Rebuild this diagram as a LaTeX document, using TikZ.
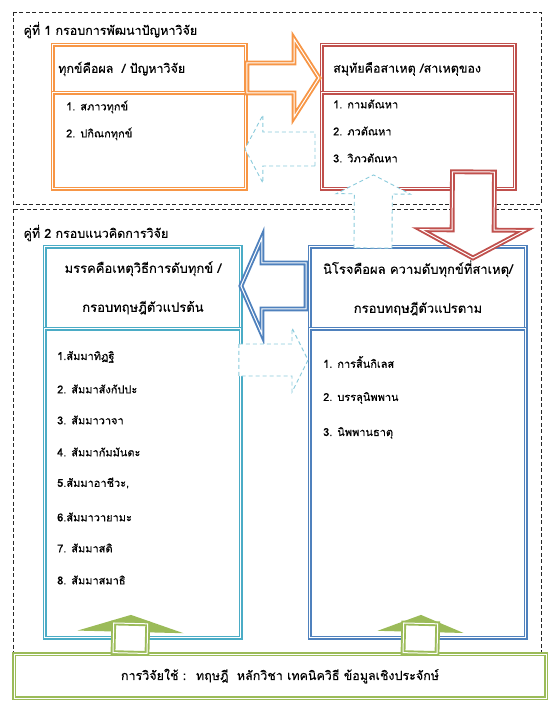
\documentclass[tikz,border=0pt]{standalone}
\usepackage{fontspec}
\setmainfont[Script=Thai, FakeBold=0.25]{Loma}
\usetikzlibrary{calc}

\definecolor{fworange}{HTML}{F79646}
\definecolor{fwred}{HTML}{C0504D}
\definecolor{fwcyan}{HTML}{4BACC6}
\definecolor{fwblue}{HTML}{4F81BD}
\definecolor{fwgreen}{HTML}{9BBB59}
\definecolor{fwdash}{HTML}{8ACBDC}

% block arrow: #1 style, #2 start, #3 tip, #4 half shaft, #5 half head, #6 head length
\newcommand{\blockarrow}[6]{%
  \path #2 coordinate (ba-start) #3 coordinate (ba-tip);
  \coordinate (ba-base) at ($(ba-tip)!#6!(ba-start)$);
  \draw[#1] ($(ba-start)!#4!90:(ba-tip)$) -- ($(ba-base)!#4!90:(ba-tip)$)
     -- ($(ba-base)!#5!90:(ba-tip)$) -- (ba-tip)
     -- ($(ba-base)!#5!-90:(ba-tip)$) -- ($(ba-base)!#4!-90:(ba-tip)$)
     -- ($(ba-start)!#4!-90:(ba-tip)$) -- cycle;
}
% flat arrow with a filled head: #1 start, #2 tip, #3 half shaft, #4 half head, #5 head length
\newcommand{\fatarrow}[5]{%
  \path #1 coordinate (fa-start) #2 coordinate (fa-tip);
  \coordinate (fa-base) at ($(fa-tip)!#5!(fa-start)$);
  \coordinate (fa-top) at ($(fa-tip)!0.5!(fa-base)$);
  \fill[fwgreen] ($(fa-base)!#4!90:(fa-tip)$) -- (fa-tip)
     -- ($(fa-base)!#4!-90:(fa-tip)$) -- cycle;
  \draw[solidarrow, draw=fwgreen] ($(fa-start)!#3!90:(fa-tip)$) -- ($(fa-top)!#3!90:(fa-tip)$)
     -- ($(fa-top)!#3!-90:(fa-tip)$) -- ($(fa-start)!#3!-90:(fa-tip)$) -- cycle;
}

\begin{document}
\begin{tikzpicture}[x=1pt, y=-1pt,
        every node/.style={font=\fontsize{11}{13}\selectfont},
        panel/.style={
        % The shape:
        rectangle, inner sep=0pt, anchor=north west,
        % The border:
        line width=1.9pt, double=white, double distance=1pt,
        % The filling:
        fill=white
        },
        opanel/.style={panel, draw=fworange},
        rpanel/.style={panel, draw=fwred},
        cpanel/.style={panel, draw=fwcyan, align=center,
                       font=\fontsize{13}{39}\selectfont},
        bpanel/.style={panel, draw=fwblue, align=center,
                       font=\fontsize{13}{39}\selectfont},
        gpanel/.style={panel, draw=fwgreen, anchor=center,
                       font=\fontsize{12.5}{15}\selectfont},
        frame/.style={draw=black!85, line width=0.8pt,
                      dash pattern=on 4pt off 2.5pt},
        title/.style={anchor=west, font=\fontsize{12.5}{15}\selectfont},
        headtext/.style={anchor=west, inner sep=0pt, font=\fontsize{12.5}{15}\selectfont},
        item/.style={anchor=west, inner sep=0pt},
        solidarrow/.style={line width=1.9pt, double=white,
                           double distance=1pt, fill=white, line join=miter},
        dasharrow/.style={draw=fwdash, line width=0.9pt,
                          dash pattern=on 4pt off 3pt, fill=white},
        ]
  \useasboundingbox (0,0) rectangle (549,701);

  % the two dashed frames
  \draw[frame] (13,12) rectangle (541,204);
  \draw[frame] (13,209) rectangle (541,655);
  \node[title] (title1) at (20,30) {คู่ที่ 1 กรอบการพัฒนาปัญหาวิจัย};
  \node[title] (title2) at (20,233) {คู่ที่ 2 กรอบแนวคิดการวิจัย};

  % frame 1
  \node[opanel, minimum width=193pt, minimum height=48pt] (ohead) at (52,44) {};
  \node[opanel, minimum width=193pt, minimum height=96pt] (obody) at (52,92) {};
  \node[headtext] (otext) at (58,69) {ทุกข์คือผล~ / ปัญหาวิจัย};
  \node[item] (o1) at (66,107) {1. สภาวทุกข์};
  \node[item] (o2) at (66,134) {2. ปกิณกทุกข์};

  \node[rpanel, minimum width=193pt, minimum height=48pt] (rhead) at (321,44) {};
  \node[rpanel, minimum width=193pt, minimum height=96pt] (rbody) at (321,92) {};
  \node[headtext] (rtext) at (333,69) {สมุทัยคือสาเหตุ /สาเหตุของ};
  \node[item] (r1) at (333,104) {1. กามตัณหา};
  \node[item] (r2) at (333,131) {2. ภวตัณหา};
  \node[item] (r3) at (333,158) {3. วิภวตัณหา};

  % frame 2
  \node[cpanel, minimum width=196pt, minimum height=82pt] (chead) at (44,246)
       {มรรคคือเหตุวิธีการดับทุกข์ / \\ กรอบทฤษฎีตัวแปรต้น};
  \node[cpanel, minimum width=196pt, minimum height=309pt] (cbody) at (44,328) {};
  \node[item] (c1) at (57,357) {1.สัมมาทิฏฐิ};
  \node[item] (c2) at (57,389) {2. สัมมาสังกัปปะ};
  \node[item] (c3) at (57,420) {3. สัมมาวาจา};
  \node[item] (c4) at (57,452) {4. สัมมากัมมันตะ};
  \node[item] (c5) at (57,483) {5.สัมมาอาชีวะ,};
  \node[item] (c6) at (57,517) {6.สัมมาวายามะ};
  \node[item] (c7) at (57,548) {7. สัมมาสติ};
  \node[item] (c8) at (57,580) {8. สัมมาสมาธิ};

  \node[bpanel, minimum width=216pt, minimum height=82pt] (bhead) at (309,246)
       {นิโรจคือผล ความดับทุกข์ที่สาเหตุ/ \\ กรอบทฤษฎีตัวแปรตาม};
  \node[bpanel, minimum width=216pt, minimum height=309pt] (bbody) at (309,328) {};
  \node[item] (b1) at (323,362) {1. การสิ้นกิเลส};
  \node[item] (b2) at (323,398) {2. บรรลุนิพพาน};
  \node[item] (b3) at (323,433) {3. นิพพานธาตุ};

  % bottom bar
  \node[gpanel, minimum width=532pt, minimum height=44pt] (gbox) at (280,676)
       {การวิจัยใช้ :~ ทฤษฎี~ หลักวิชา เทคนิควิธี ข้อมูลเชิงประจักษ์};

  % arrows
  \blockarrow{solidarrow, draw=fworange}{($(ohead.east)+(0,9)$)}{($(rhead.west)+(-2,9)$)}{15pt}{39pt}{25pt}
  \blockarrow{dasharrow}{($(rbody.west)+(-6,8)$)}{($(obody.east)+(-2,8)$)}{17pt}{34pt}{18pt}
  \blockarrow{solidarrow, draw=fwred}{($(rbody.south)+(55,-18)$)}{($(bhead.north)+(55,12)$)}{21pt}{52pt}{28pt}
  \blockarrow{dasharrow}{($(bhead.north)+(-45,2)$)}{($(rbody.south)+(-45,-15)$)}{19pt}{37pt}{19pt}
  \blockarrow{solidarrow, draw=fwblue}{($(bhead.west)+(-3,-2)$)}{($(chead.east)+(-1,-2)$)}{23pt}{48pt}{21pt}
  \blockarrow{dasharrow}{($(cbody.north east)+(-3,32)$)}{($(bbody.north west)+(-1,32)$)}{16pt}{32pt}{16pt}
  \fatarrow{($(gbox.north)+(-150,0)$)}{($(cbody.south)+(-12,-24)$)}{17pt}{53pt}{17pt}
  \fatarrow{($(gbox.north)+(140,0)$)}{($(bbody.south)+(3,-24)$)}{17pt}{43pt}{17pt}
\end{tikzpicture}
\end{document}
